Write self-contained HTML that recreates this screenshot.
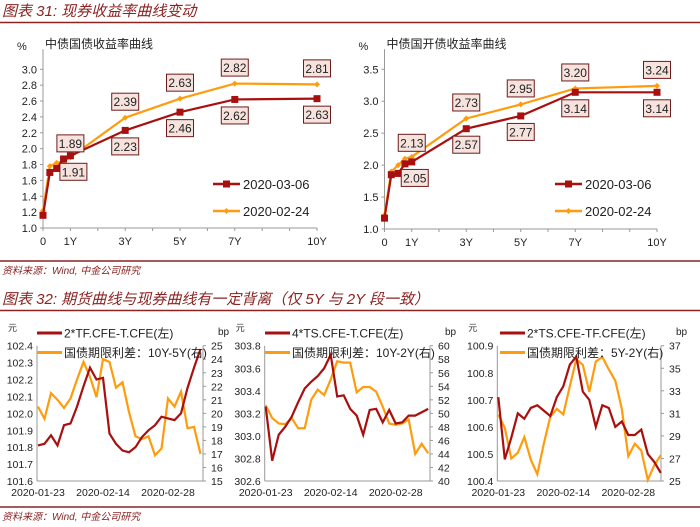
<!DOCTYPE html>
<html><head><meta charset="utf-8"><style>
html,body{margin:0;padding:0;background:#fff;}
svg{display:block;font-family:"Liberation Sans","Noto Sans CJK SC",sans-serif;}
.t{font-size:11px;fill:#222;}
.h{font-size:15px;fill:#8b2323;font-style:italic;}
.s{font-size:10px;fill:#8b2323;font-style:italic;}
</style></head><body>
<svg id="c" width="700" height="527" viewBox="0 0 700 527">
<text class="h" x="2" y="16">图表 31:  现券收益率曲线变动</text>
<line x1="0" y1="22.5" x2="700" y2="22.5" stroke="#8b2323" stroke-width="1.5"/>
<line x1="0" y1="261" x2="700" y2="261" stroke="#8b2323" stroke-width="1.5"/>
<text class="s" x="2" y="274">资料来源：Wind, 中金公司研究</text>
<text class="h" x="2" y="304">图表 32:  期货曲线与现券曲线有一定背离（仅 5Y 与 2Y 段一致）</text>
<line x1="0" y1="310.5" x2="700" y2="310.5" stroke="#8b2323" stroke-width="1.5"/>
<line x1="0" y1="507" x2="700" y2="507" stroke="#8b2323" stroke-width="1.5"/>
<text class="s" x="2" y="520">资料来源：Wind, 中金公司研究</text>
</svg>
<script>
// ---- Top charts data ----
const tenors = [0, 0.25, 0.5, 0.75, 1, 3, 5, 7, 10];
const tenorTicks = ["0", "1Y", "3Y", "5Y", "7Y", "10Y"];
const tenorTickVals = [0, 1, 3, 5, 7, 10];
const govRed = [1.16, 1.70, 1.75, 1.87, 1.91, 2.23, 2.46, 2.62, 2.63];
const govOrange = [1.22, 1.78, 1.82, 1.84, 1.89, 2.39, 2.63, 2.82, 2.81];
const cdbRed = [1.17, 1.85, 1.87, 2.02, 2.05, 2.57, 2.77, 3.14, 3.14];
const cdbOrange = [1.22, 1.90, 2.00, 2.10, 2.13, 2.73, 2.95, 3.20, 3.24];
const govTicks = [1.0, 1.2, 1.4, 1.6, 1.8, 2.0, 2.2, 2.4, 2.6, 2.8, 3.0];
const cdbTicks = [1.0, 1.5, 2.0, 2.5, 3.0, 3.5];
const legendDates = ["2020-03-06", "2020-02-24"];

// ---- Bottom charts data ----
const dateLabels = ["2020-01-23", "2020-02-14", "2020-02-28"];
const dateLabelIdx = [0, 10, 20];
const tfT = [101.81,101.82,101.87,101.81,101.93,101.94,102.04,102.16,102.27,102.20,102.21,101.88,101.82,101.78,101.77,101.80,101.86,101.90,101.93,101.98,101.97,101.96,102.00,102.15,102.27,102.38];
const spread10y5y = [20.5,19.6,21.5,21.0,20.4,21.1,22.5,23.8,22.7,21.2,24.0,23.8,21.9,22.3,20.1,18.3,18.1,18.3,16.9,17.4,21.1,20.5,21.6,18.9,19.0,17.0];
const tsT = [303.26,302.78,303.01,303.08,303.17,303.30,303.42,303.48,303.53,303.60,303.72,303.35,303.36,303.24,303.18,303.01,303.23,303.24,303.12,303.23,303.11,303.12,303.18,303.18,303.21,303.24];
const spread10y2y = [51.2,49.3,48.5,48.4,49.3,47.8,47.8,52.0,53.5,52.7,55.0,57.7,57.5,57.5,53.1,53.9,53.9,53.2,51.0,48.5,48.3,48.5,49.1,44.0,45.5,44.1];
const tsTf = [100.71,100.48,100.56,100.65,100.63,100.67,100.68,100.66,100.64,100.71,100.75,100.83,100.86,100.73,100.70,100.60,100.68,100.67,100.60,100.62,100.57,100.57,100.59,100.50,100.47,100.43];
const spread5y2y = [30.9,29.7,27.0,27.5,28.9,26.9,25.6,28.3,30.7,31.4,30.9,33.4,35.8,35.3,32.9,35.6,36.0,34.9,33.9,31.4,27.2,28.3,27.7,25.1,26.4,27.3];
const lt1 = [101.6,101.7,101.8,101.9,102.0,102.1,102.2,102.3,102.4];
const rt1 = [15,16,17,18,19,20,21,22,23,24,25];
const lt2 = [302.6,302.8,303.0,303.2,303.4,303.6,303.8];
const rt2 = [40,42,44,46,48,50,52,54,56,58,60];
const lt3 = [100.4,100.5,100.6,100.7,100.8,100.9];
const rt3 = [25,27,29,31,33,35,37];

const RED = "#a80f0f", ORANGE = "#ff9c0e", NS = "http://www.w3.org/2000/svg";
const svg = document.getElementById('c');
function el(tag, attrs, parent, txt) {
  const e = document.createElementNS(NS, tag);
  for (const k in attrs) e.setAttribute(k, attrs[k]);
  if (txt !== undefined) e.textContent = txt;
  (parent || svg).appendChild(e);
  return e;
}
function pts(xs, ys, fx, fy) { return xs.map((x, i) => fx(x) + "," + fy(ys[i])).join(" "); }

function curveChart(o) {
  const g = el('g', {});
  
  
  const fx = t => o.x0 + t * (o.x1 - o.x0) / 10;
  const fy = v => o.yb - (v - o.vmin) * (o.yb - o.yt) / (o.vmax - o.vmin);
  const u = el('text', {x: o.x0 - 26, y: 50, class: 't'}, g, '%');
   
  const tt = el('text', {x: o.x0 + 2, y: 48, style: 'font-size:12px;fill:#222'}, g, o.title);
   
  el('line', {x1: o.x0, y1: o.yt - 20, x2: o.x0, y2: o.yb, stroke: '#999'}, g);
  el('line', {x1: o.x0, y1: o.yb, x2: o.x1, y2: o.yb, stroke: '#999'}, g);
  for (let y = 0; y <= 10; y++) el('line', {x1: fx(y), y1: o.yb, x2: fx(y), y2: o.yb + 3, stroke: '#999'}, g);
  o.ticks.forEach(v => {
    const t = el('text', {x: o.x0 - 6, y: fy(v) + 4, class: 't', 'text-anchor': 'end'}, g, v.toFixed(1));
     
    el('line', {x1: o.x0 - 3, y1: fy(v), x2: o.x0, y2: fy(v), stroke: '#999'}, g);
  });
  tenorTicks.forEach((l, i) => {
    const t = el('text', {x: fx(tenorTickVals[i]), y: o.yb + 17, class: 't', 'text-anchor': 'middle'}, g, l);
     
  });
  const lo = el('polyline', {points: pts(tenors, o.orange, fx, fy), fill: 'none', stroke: ORANGE, 'stroke-width': 2.2}, g);
   
  tenors.forEach((t, i) => el('path', {d: `M${fx(t)-3},${fy(o.orange[i])}l3,-3l3,3l-3,3z`, fill: ORANGE}, g));
  const lr = el('polyline', {points: pts(tenors, o.red, fx, fy), fill: 'none', stroke: RED, 'stroke-width': 2.2}, g);
   
  tenors.forEach((t, i) => {
    const m = el('rect', {x: fx(t) - 3.5, y: fy(o.red[i]) - 3.5, width: 7, height: 7, fill: RED}, g);
     
  });
  function box(cx, cy, v) {
    const b = el('g', {}, g);
     
    el('rect', {x: cx - 13.5, y: cy - 8.5, width: 27, height: 17, fill: '#f6e3de', stroke: '#6d1b1b', 'stroke-width': 1}, b);
    el('text', {x: cx, y: cy + 4.5, class: 't', 'text-anchor': 'middle', style: 'font-size:12px'}, b, v.toFixed(2));
  }
  for (let i = 4; i < tenors.length; i++) {
    const t = tenors[i];
    box(fx(t) + (i === 4 ? 0 : 0), fy(o.orange[i]) - (i === 4 ? 14 : 16), o.orange[i]);
    box(fx(t) + (i === 4 ? 3 : 0), fy(o.red[i]) + 16, o.red[i]);
  }
  [[RED, 184, legendDates[0]], [ORANGE, 211, legendDates[1]]].forEach(([c, y, s], k) => {
    const lg = el('g', {}, g);
     
    el('line', {x1: o.lx, y1: y, x2: o.lx + 27, y2: y, stroke: c, 'stroke-width': 2.5}, lg);
    if (k === 0) el('rect', {x: o.lx + 10, y: y - 3.5, width: 7, height: 7, fill: c}, lg);
    else el('path', {d: `M${o.lx+10.5},${y}l3,-3l3,3l-3,3z`, fill: c}, lg);
    el('text', {x: o.lx + 30, y: y + 5, class: 't', style: 'font-size:13px'}, lg, s);
  });
}
curveChart({name: 'gov-bond-yield-curve-chart', title: '中债国债收益率曲线', x0: 43, x1: 317, yt: 69.3, yb: 228, vmin: 1.0, vmax: 3.0, ticks: govTicks, red: govRed, orange: govOrange, lx: 213});
curveChart({name: 'cdb-bond-yield-curve-chart', title: '中债国开债收益率曲线', x0: 384.5, x1: 657, yt: 69.3, yb: 229, vmin: 1.0, vmax: 3.5, ticks: cdbTicks, red: cdbRed, orange: cdbOrange, lx: 555});

function tsChart(o) {
  const g = el('g', {});
  
  
  const yt = 345.7, yb = 481;
  const fx = i => o.x0 + i * 6.5;
  const fl = v => yb - (v - o.lt[0]) * (yb - yt) / (o.lt[o.lt.length - 1] - o.lt[0]);
  const fr = v => yb - (v - o.rt[0]) * (yb - yt) / (o.rt[o.rt.length - 1] - o.rt[0]);
  el('line', {x1: o.x0 - 1, y1: yt, x2: o.x0 - 1, y2: yb, stroke: '#999'}, g);
  el('line', {x1: o.xr, y1: yt, x2: o.xr, y2: yb, stroke: '#999'}, g);
  el('line', {x1: o.x0 - 1, y1: yb, x2: o.xr, y2: yb, stroke: '#999'}, g);
  const u = el('text', {x: o.x0 - 30, y: 331, style: 'font-size:9px;fill:#333'}, g, '元');
   
  const bp = el('text', {x: o.xr + 15, y: 335, class: 't', style: 'font-size:10px'}, g, 'bp');
   
  o.lt.forEach(v => {
    const t = el('text', {x: o.x0 - 5, y: fl(v) + 4, class: 't', 'text-anchor': 'end', style: 'font-size:10.5px'}, g, v.toFixed(1));
     
  });
  o.rt.forEach(v => {
    const t = el('text', {x: o.xr + 8, y: fr(v) + 4, class: 't', style: 'font-size:10.5px'}, g, String(v));
     
    el('line', {x1: o.xr, y1: fr(v), x2: o.xr + 3, y2: fr(v), stroke: '#999'}, g);
  });
  dateLabels.forEach((d, k) => {
    const t = el('text', {x: fx(dateLabelIdx[k]), y: 496, class: 't', 'text-anchor': 'middle', style: 'font-size:10.5px'}, g, d);
     
  });
  const idx = o.red.map((_, i) => i);
  const lo = el('polyline', {points: pts(idx, o.orange, fx, fr), fill: 'none', stroke: ORANGE, 'stroke-width': 2.2}, g);
   
  const lr = el('polyline', {points: pts(idx, o.red, fx, fl), fill: 'none', stroke: RED, 'stroke-width': 2.2}, g);
   
  const l1 = el('g', {}, g);
   
  el('line', {x1: o.lx, y1: 333, x2: o.lx + 25, y2: 333, stroke: RED, 'stroke-width': 3}, l1);
  el('text', {x: o.lx + 27, y: 337.5, class: 't', style: 'font-size:12px'}, l1, o.l1);
  const l2 = el('g', {}, g);
   
  el('line', {x1: o.lx, y1: 352.5, x2: o.lx + 25, y2: 352.5, stroke: ORANGE, 'stroke-width': 3}, l2);
  el('text', {x: o.lx + 27, y: 357, class: 't', style: 'font-size:12px'}, l2, o.l2);
}
tsChart({name: 'tf-t-chart', x0: 38, xr: 203, lt: lt1, rt: rt1, red: tfT, orange: spread10y5y, lx: 37, l1: '2*TF.CFE-T.CFE(左)', l2: '国债期限利差：10Y-5Y(右)'});
tsChart({name: 'ts-t-chart', x0: 265.7, xr: 430, lt: lt2, rt: rt2, red: tsT, orange: spread10y2y, lx: 265, l1: '4*TS.CFE-T.CFE(左)', l2: '国债期限利差：10Y-2Y(右)'});
tsChart({name: 'ts-tf-chart', x0: 498.3, xr: 661, lt: lt3, rt: rt3, red: tsTf, orange: spread5y2y, lx: 500, l1: '2*TS.CFE-TF.CFE(左)', l2: '国债期限利差：5Y-2Y(右)'});
</script>
</body></html>
